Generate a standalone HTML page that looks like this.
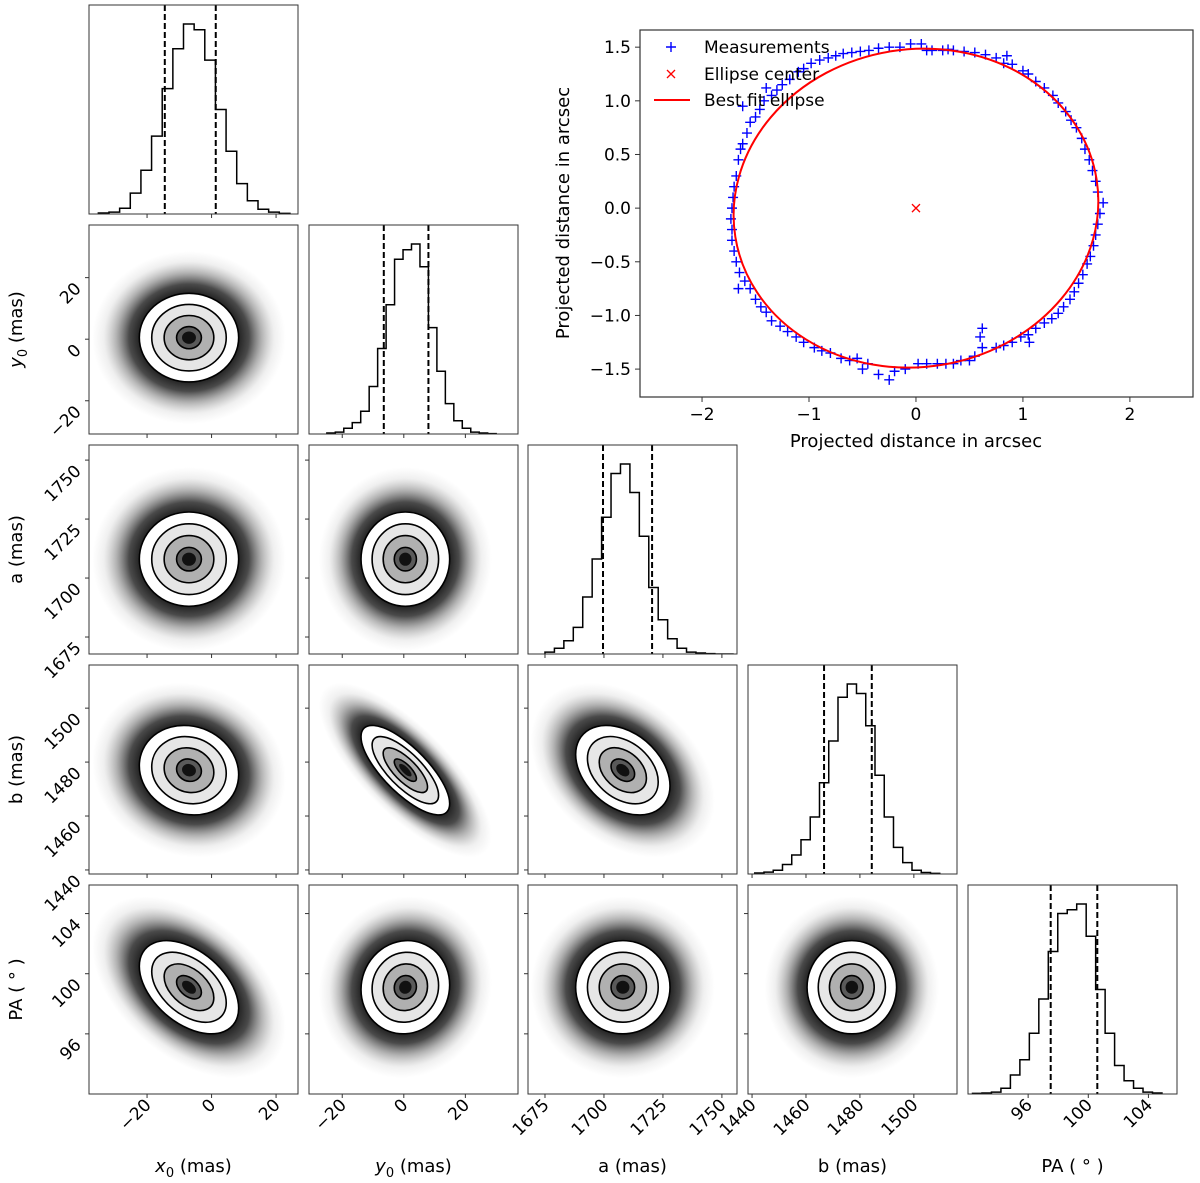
<!DOCTYPE html>
<html><head><meta charset="utf-8"><style>
html,body{margin:0;padding:0;background:#fff}
svg{display:block;font-family:"DejaVu Sans","Liberation Sans",sans-serif}
</style></head><body>
<svg id="fig" width="1200" height="1183" viewBox="0 0 1200 1183" xmlns="http://www.w3.org/2000/svg">
<defs>
<radialGradient id="cloud" cx="0.5" cy="0.5" r="0.5">
<stop offset="0" stop-color="#1a1a1a" stop-opacity="1"/>
<stop offset="0.5" stop-color="#1f1f1f" stop-opacity="1"/>
<stop offset="0.62" stop-color="#2a2a2a" stop-opacity="0.85"/>
<stop offset="0.75" stop-color="#555" stop-opacity="0.45"/>
<stop offset="0.88" stop-color="#888" stop-opacity="0.13"/>
<stop offset="1" stop-color="#999" stop-opacity="0"/>
</radialGradient>
</defs>
</svg>
<script>
// ---- data ----
const paramNames = ["x0","y0","a","b","PA"];
const paramMeans = [-7, 0.5, 1708, 1477, 99.1];
const paramSigmas = [7.7, 7.2, 10, 8.3, 1.55];
const paramLo = [-38, -30.8, 1667.8, 1438.5, 92.0];
const paramHi = [26.8, 37.1, 1756.4, 1516, 105.9];
const q16 = [-14.5, -6.5, 1699.6, 1466.7, 97.5];
const q84 = [1.3, 8.0, 1720.4, 1484.4, 100.6];
const ticksX0 = [-20, 0, 20];
const ticksY0 = [-20, 0, 20];
const ticksA = [1675, 1700, 1725, 1750];
const ticksB = [1440, 1460, 1480, 1500];
const ticksPA = [96, 100, 104];
const histStart = [-35.1, -25, 1675, 1441, 92.3];
const histWidth = [3.3, 2.75, 4, 3.43, 0.63];
const countsX0 = [0.005,0.01,0.03,0.11,0.23,0.41,0.66,0.87,1.0,0.97,0.81,0.55,0.33,0.16,0.07,0.025,0.01,0.003];
const countsY0 = [0.005,0.01,0.03,0.06,0.12,0.25,0.45,0.68,0.92,0.97,1.0,0.88,0.56,0.33,0.16,0.07,0.03,0.01,0.005,0.002];
const countsA = [0.01,0.03,0.07,0.14,0.3,0.5,0.72,0.95,1.0,0.85,0.62,0.35,0.18,0.08,0.03,0.01,0.005,0.002,0,0];
const countsB = [0.005,0.01,0.02,0.05,0.1,0.18,0.3,0.48,0.7,0.93,1.0,0.95,0.78,0.52,0.3,0.14,0.06,0.02,0.008,0.003];
const countsPA = [0.003,0.005,0.01,0.03,0.1,0.18,0.32,0.5,0.75,0.95,0.97,1.0,0.83,0.55,0.32,0.15,0.07,0.03,0.01,0.005];
const corrX0Y0 = 0, corrX0A = 0, corrY0A = 0, corrX0B = -0.1, corrY0B = -0.75, corrAB = -0.35, corrX0PA = -0.45, corrY0PA = 0.05, corrAPA = 0, corrBPA = 0;
// inset
const measX = [-1.72,-1.73,-1.71,-1.70,-1.68,-1.66,-1.64,-1.62,-1.58,-1.55,-1.5,-1.46,-1.42,-1.35,-1.3,-1.25,-1.18,-1.1,-1.05,-0.98,-0.9,-0.82,-0.75,-0.68,-0.6,-0.52,-0.44,-0.35,-0.25,-0.15,-0.05,0.05,0.1,0.15,0.25,0.35,0.45,0.55,0.65,0.75,0.82,0.9,1.0,1.05,1.12,1.2,1.28,1.33,1.4,1.45,1.5,1.55,1.58,1.62,1.65,1.68,1.7,1.75,1.72,1.7,1.68,1.66,1.63,1.6,1.56,1.52,1.48,1.44,1.38,1.33,1.27,1.2,1.12,1.05,0.98,0.9,0.82,0.75,0.62,0.62,0.55,0.5,0.42,0.35,0.28,0.2,0.1,0.02,-0.1,-0.2,-0.25,-0.35,-0.45,-0.5,-0.55,-0.62,-0.7,-0.8,-0.88,-0.95,-1.05,-1.12,-1.2,-1.27,-1.35,-1.4,-1.45,-1.5,-1.55,-1.6,-1.65,-1.68,-1.7,-1.72,-1.72,-1.66,0.6,1.06,-1.62,-1.4,0.3,0.85];
const measY = [0.0,-0.1,0.1,0.2,0.3,0.45,0.55,0.6,0.7,0.8,0.85,0.92,1.0,1.05,1.1,1.15,1.2,1.27,1.3,1.35,1.38,1.4,1.42,1.44,1.45,1.46,1.47,1.49,1.5,1.5,1.53,1.53,1.47,1.47,1.47,1.47,1.46,1.45,1.43,1.4,1.35,1.34,1.28,1.25,1.18,1.12,1.05,0.98,0.9,0.82,0.75,0.65,0.55,0.45,0.35,0.25,0.15,0.05,-0.05,-0.15,-0.25,-0.35,-0.45,-0.52,-0.62,-0.7,-0.78,-0.85,-0.92,-0.98,-1.03,-1.07,-1.12,-1.18,-1.2,-1.25,-1.28,-1.3,-1.12,-1.3,-1.38,-1.42,-1.42,-1.45,-1.45,-1.45,-1.45,-1.45,-1.5,-1.52,-1.6,-1.55,-1.45,-1.5,-1.4,-1.42,-1.4,-1.35,-1.33,-1.3,-1.25,-1.2,-1.15,-1.1,-1.05,-0.97,-0.92,-0.85,-0.75,-0.68,-0.6,-0.5,-0.4,-0.3,-0.2,-0.75,-1.2,-1.25,0.95,1.12,1.48,1.42];
const centerX = [0], centerY = [0];
const ellA = 1.71, ellB = 1.48, ellRotDeg = -9;
const insetXTicks = [-2,-1,0,1,2];
const insetYTicks = [-1.5,-1.0,-0.5,0.0,0.5,1.0,1.5];

// ---- layout ----
const NS = "http://www.w3.org/2000/svg";
const svg = document.getElementById("fig");
const colL = [89,309,528,748,968], rowT = [5,225,445,665,885], PS = 209;
const ticksAll = [ticksX0, ticksY0, ticksA, ticksB, ticksPA];
const countsAll = [countsX0, countsY0, countsA, countsB, countsPA];
const corr = {"1,0":corrX0Y0,"2,0":corrX0A,"2,1":corrY0A,"3,0":corrX0B,"3,1":corrY0B,"3,2":corrAB,"4,0":corrX0PA,"4,1":corrY0PA,"4,2":corrAPA,"4,3":corrBPA};
function el(tag, attrs, parent){const e=document.createElementNS(NS,tag);for(const k in attrs)e.setAttribute(k,attrs[k]);(parent||svg).appendChild(e);return e;}
function sx(p,v){return colL[p]+(v-paramLo[p])/(paramHi[p]-paramLo[p])*PS;}
function sy(p,v){return rowT[p]+PS-(v-paramLo[p])/(paramHi[p]-paramLo[p])*PS;}
function fmt(v){return v<0?"\u2212"+Math.abs(v):String(v);}

const defs = svg.querySelector("defs");
for(let r=0;r<5;r++)for(let c=0;c<=r;c++){
  const cp=el("clipPath",{id:"cp"+r+c},defs);
  el("rect",{x:colL[c],y:rowT[r],width:PS,height:PS},cp);
}

for(let r=0;r<5;r++){
  for(let c=0;c<=r;c++){
    const g=el("g",{});
    
    
    const inner=el("g",{"clip-path":"url(#cp"+r+c+")"},g);
    if(r===c){
      const cnt=countsAll[c]; const ymax=1.1;
      const base=rowT[r]+PS;
      let d="M"+sx(c,histStart[c])+","+base;
      for(let i=0;i<cnt.length;i++){
        const x0=sx(c,histStart[c]+i*histWidth[c]), x1=sx(c,histStart[c]+(i+1)*histWidth[c]);
        const y=base-cnt[i]/ymax*PS;
        d+=" L"+x0+","+y+" L"+x1+","+y;
      }
      d+=" L"+sx(c,histStart[c]+cnt.length*histWidth[c])+","+base;
      const p=el("path",{d:d,fill:"none",stroke:"#000","stroke-width":1.5},inner);
      
      
      [q16[c],q84[c]].forEach(q=>{
        const l=el("line",{x1:sx(c,q),x2:sx(c,q),y1:rowT[r],y2:base,stroke:"#000","stroke-width":2,"stroke-dasharray":"6,3"},inner);
        
        
      });
    } else {
      const cx=sx(c,paramMeans[c]), cy=sy(r,paramMeans[r]);
      const sxp=paramSigmas[c]*PS/(paramHi[c]-paramLo[c]);
      const syp=paramSigmas[r]*PS/(paramHi[r]-paramLo[r]);
      const rr=-(corr[r+","+c]||0);
      const m="matrix("+sxp+","+(rr*syp)+",0,"+(syp*Math.sqrt(1-rr*rr))+","+cx+","+cy+")";
      const eg=el("g",{transform:m},inner);
      const cl=el("circle",{cx:0,cy:0,r:3.9,fill:"url(#cloud)"},eg);
      
      
      el("circle",{cx:0,cy:0,r:2,fill:"#fff"},eg);
      el("circle",{cx:0,cy:0,r:1.5,fill:"#e6e6e6"},eg);
      el("circle",{cx:0,cy:0,r:1,fill:"#b0b0b0"},eg);
      el("circle",{cx:0,cy:0,r:0.5,fill:"#5a5a5a"},eg);
      el("circle",{cx:0,cy:0,r:0.28,fill:"#111"},eg);
      [2,1.5,1,0.5].forEach(k=>{
        const ct=el("circle",{cx:0,cy:0,r:k,fill:"none",stroke:"#000","stroke-width":1.6,"vector-effect":"non-scaling-stroke"},eg);
        
        
      });
    }
    const fr=el("rect",{x:colL[c],y:rowT[r],width:PS,height:PS,fill:"none",stroke:"#333","stroke-width":1},g);
    
    
    ticksAll[c].forEach(t=>{
      const x=sx(c,t); if(x<colL[c]-0.5||x>colL[c]+PS+0.5)return;
      el("line",{x1:x,x2:x,y1:rowT[r]+PS,y2:rowT[r]+PS+4,stroke:"#333","stroke-width":1},g);
      if(r===4){
        const tx=el("text",{x:x+5,y:rowT[r]+PS+12,"font-size":17,"text-anchor":"end",transform:"rotate(-45 "+(x+5)+" "+(rowT[r]+PS+12)+")",fill:"#000"},g);
        tx.textContent=fmt(t);
        
        
      }
    });
    if(r!==c){
      ticksAll[r].forEach(t=>{
        const y=sy(r,t); if(y<rowT[r]-0.5||y>rowT[r]+PS+0.5)return;
        el("line",{x1:colL[c]-4,x2:colL[c],y1:y,y2:y,stroke:"#333","stroke-width":1},g);
        if(c===0){
          const tx=el("text",{x:colL[c]-7,y:y+12,"font-size":17,"text-anchor":"end",transform:"rotate(-45 "+(colL[c]-7)+" "+(y+12)+")",fill:"#000"},g);
          tx.textContent=fmt(t);
          
          
        }
      });
    }
  }
}
const xLabs=[["x","0"," (mas)"],["y","0"," (mas)"],["a (mas)"],["b (mas)"],["PA ( \u00b0 )"]];
xLabs.forEach((L,i)=>{
  const t=el("text",{x:colL[i]+PS/2,y:1172,"font-size":18,"text-anchor":"middle",fill:"#000"});
  
  
  if(L.length===3){
    t.innerHTML='<tspan font-style="italic">'+L[0]+'</tspan><tspan font-size="13" dy="5">'+L[1]+'</tspan><tspan dy="-5">'+L[2]+'</tspan>';
  } else t.textContent=L[0];
  if(i>0){
    const yy=rowT[i]+PS/2;
    const t2=el("text",{x:22,y:yy,"font-size":18,"text-anchor":"middle",fill:"#000",transform:"rotate(-90 22 "+yy+")"});
    
    
    t2.innerHTML=t.innerHTML;
  }
});

// ---- inset ellipse plot ----
const IL=640, IT=30, IR=1193, IB=397, XL=-2.58, XH=2.59, YL=-1.76, YH=1.66;
function ix(v){return IL+(v-XL)/(XH-XL)*(IR-IL);}
function iy(v){return IB-(v-YL)/(YH-YL)*(IB-IT);}
const ig=el("g",{});


const icp=el("clipPath",{id:"icp"},defs); el("rect",{x:IL,y:IT,width:IR-IL,height:IB-IT},icp);
const ii=el("g",{"clip-path":"url(#icp)"},ig);
measX.forEach((v,k)=>{
  const x=ix(v), y=iy(measY[k]);
  const p=el("path",{d:"M"+(x-5)+","+y+"h10M"+x+","+(y-5)+"v10",stroke:"#0000ff","stroke-width":1.4},ii);
  
  
});
const ecx=ix(centerX[0]), ecy=iy(centerY[0]);
const fe=el("ellipse",{cx:ecx,cy:ecy,rx:ix(ellA)-ix(0),ry:iy(0)-iy(ellB),fill:"none",stroke:"#ff0000","stroke-width":2,transform:"rotate("+ellRotDeg+" "+ecx+" "+ecy+")"},ii);


centerX.forEach((v,k)=>{
  const x=ix(v), y=iy(centerY[k]);
  const p=el("path",{d:"M"+(x-4)+","+(y-4)+"l8,8M"+(x+4)+","+(y-4)+"l-8,8",stroke:"#ff0000","stroke-width":1.3},ii);
  
  
});
const ifr=el("rect",{x:IL,y:IT,width:IR-IL,height:IB-IT,fill:"none",stroke:"#333","stroke-width":1.2},ig);


insetXTicks.forEach(t=>{
  const x=ix(t);
  el("line",{x1:x,x2:x,y1:IB,y2:IB+5,stroke:"#333"},ig);
  const tx=el("text",{x:x,y:IB+23,"font-size":17,"text-anchor":"middle"},ig);
  tx.textContent=fmt(t);
  
  
});
insetYTicks.forEach(t=>{
  const y=iy(t);
  el("line",{x1:IL-5,x2:IL,y1:y,y2:y,stroke:"#333"},ig);
  const tx=el("text",{x:IL-9,y:y+6,"font-size":17,"text-anchor":"end"},ig);
  tx.textContent=(t<0?"\u2212":"")+Math.abs(t).toFixed(1);
  
  
});
const ixl=el("text",{x:916,y:447,"font-size":18,"text-anchor":"middle"},ig);
ixl.textContent="Projected distance in arcsec";


const iyl=el("text",{x:569,y:213,"font-size":18,"text-anchor":"middle",transform:"rotate(-90 569 213)"},ig);
iyl.textContent="Projected distance in arcsec";


const lg=el("g",{},ig);


el("path",{d:"M666,47h10M671,42v10",stroke:"#0000ff","stroke-width":1.4},lg);
el("path",{d:"M667,70l8,8M675,70l-8,8",stroke:"#ff0000","stroke-width":1.3},lg);
el("line",{x1:654,x2:690,y1:100,y2:100,stroke:"#ff0000","stroke-width":2},lg);
[["Measurements",53],["Ellipse center",80],["Best fit ellipse",106]].forEach(([s,y])=>{
  const t=el("text",{x:704,y:y,"font-size":17},lg);
  t.textContent=s;
  
  
});
</script>
</body></html>
